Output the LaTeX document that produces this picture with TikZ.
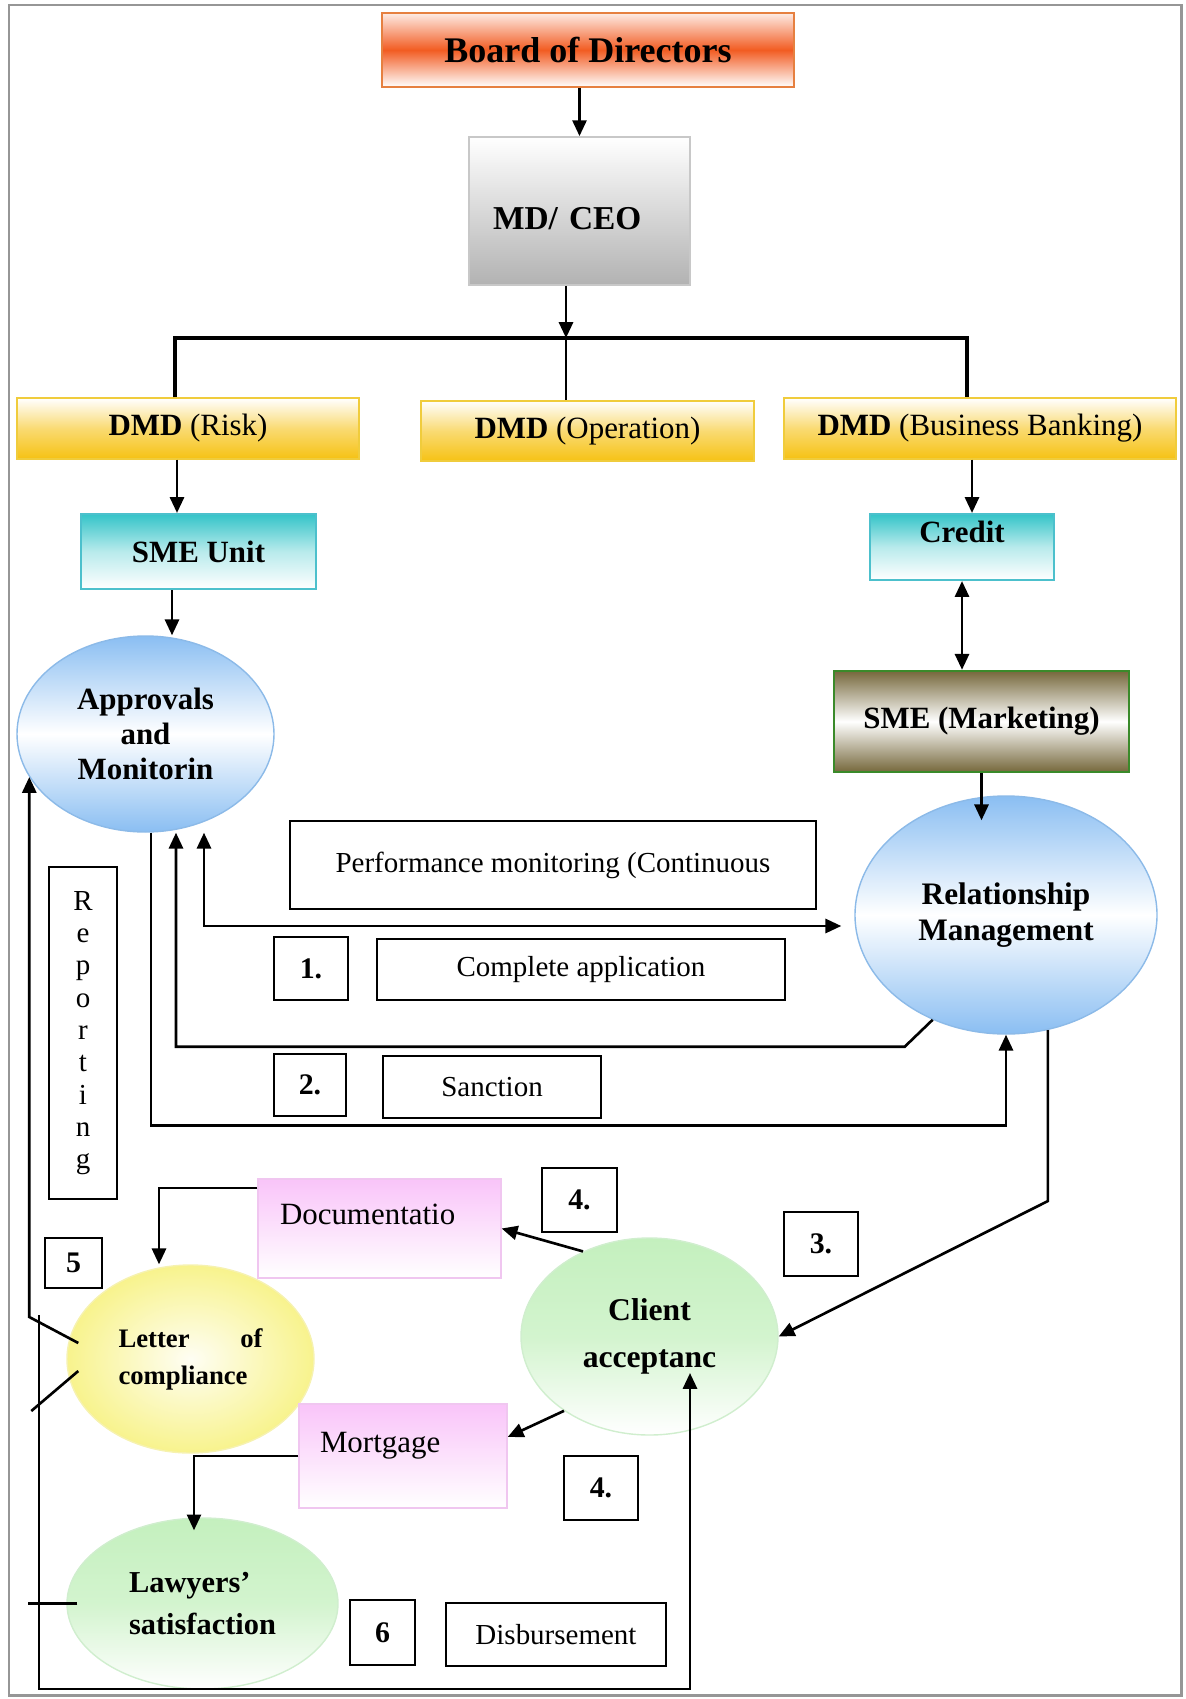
\documentclass[tikz,border=0pt]{standalone}
\usepackage{fontspec}
\setmainfont{Liberation Serif}
\usepackage{tikz}
\usetikzlibrary{shapes.geometric,arrows.meta,calc}
\definecolor{BodFill}{RGB}{242,92,34}
\definecolor{BodLine}{RGB}{230,128,64}
\definecolor{CeoFill}{RGB}{178,178,178}
\definecolor{CeoLine}{RGB}{200,200,200}
\definecolor{DmdFill}{RGB}{246,194,20}
\definecolor{DmdLine}{RGB}{240,204,60}
\definecolor{SmeFill}{RGB}{52,196,200}
\definecolor{SmeLine}{RGB}{76,192,204}
\definecolor{MktFill}{RGB}{118,104,60}
\definecolor{MktLine}{RGB}{58,138,42}
\definecolor{BluFill}{RGB}{138,190,242}
\definecolor{BluLine}{RGB}{140,186,232}
\definecolor{YelFill}{RGB}{246,240,112}
\definecolor{YelLine}{RGB}{246,242,176}
\definecolor{GrnFill}{RGB}{196,240,190}
\definecolor{GrnLine}{RGB}{208,238,206}
\definecolor{PnkFill}{RGB}{249,196,249}
\definecolor{PnkLine}{RGB}{240,198,240}
\definecolor{FrameGr}{RGB}{150,150,150}
\tikzset{
  nd_bod/.style={
    rectangle, draw=BodLine, line width=1pt,
    top color=BodFill!12!white, bottom color=white, middle color=BodFill,
    minimum width=8.24cm, minimum height=1.48cm,
    font=\fontsize{20.5}{24}\selectfont\bfseries},
  nd_ceo/.style={
    rectangle, draw=CeoLine, line width=1pt,
    top color=white, bottom color=CeoFill,
    minimum height=2.96cm, text width=3.46cm, inner xsep=0.48cm,
    text height=0.8cm, text depth=0.04cm,
    align=left, font=\fontsize{19}{22}\selectfont\bfseries},
  nd_dmd/.style={
    rectangle, draw=DmdLine, line width=1pt,
    top color=white, bottom color=DmdFill, middle color=DmdFill!60!white,
    minimum height=1.21cm, font=\fontsize{17.6}{21}\selectfont},
  nd_sme/.style={
    rectangle, draw=SmeLine, line width=1.2pt,
    top color=SmeFill, bottom color=white, middle color=SmeFill!35!white,
    font=\fontsize{17.6}{21}\selectfont\bfseries},
  nd_mkt/.style={
    rectangle, draw=MktLine, line width=1.4pt,
    top color=MktFill, bottom color=MktFill, middle color=white,
    font=\fontsize{17.6}{21}\selectfont\bfseries},
  nd_blu/.style={
    ellipse, draw=BluLine, line width=0.8pt, inner sep=0pt,
    top color=BluFill, bottom color=BluFill, middle color=white,
    align=center, font=\fontsize{17.6}{20}\selectfont\bfseries},
  nd_yel/.style={
    ellipse, draw=YelLine, line width=0.8pt, inner sep=0pt,
    inner color=YelFill!8!white, outer color=YelFill!80!white,
    font=\fontsize{15.2}{21}\selectfont\bfseries},
  nd_grn/.style={
    ellipse, draw=GrnLine, line width=0.8pt, inner sep=0pt,
    top color=GrnFill, bottom color=white, middle color=GrnFill!75!white,
    font=\fontsize{17.6}{24}\selectfont\bfseries},
  nd_pnk/.style={
    rectangle, draw=PnkLine, line width=0.8pt,
    top color=PnkFill, bottom color=white, align=left,
    text height=0.42cm, text depth=0.6cm, inner ysep=2pt,
    font=\fontsize{17.6}{21}\selectfont},
  nd_box/.style={
    rectangle, draw=black, line width=1.3pt, fill=white,
    font=\fontsize{16.5}{20}\selectfont},
  nd_num/.style={
    nd_box, font=\fontsize{17}{20}\selectfont\bfseries},
  lnk/.style={line width=1.5pt},
  arr/.style={-{Stealth[length=9pt,width=8pt,inset=0pt]},line width=1.5pt},
  arrb/.style={{Stealth[length=9pt,width=8pt,inset=0pt]}-{Stealth[length=9pt,width=8pt,inset=0pt]},line width=1.5pt},
}

\begin{document}
\begin{tikzpicture}[x=1cm,y=1cm]

\useasboundingbox (0,0) rectangle (23.7,-33.98);
\draw[FrameGr,line width=1.7pt] (0.18,-0.1) rectangle (23.62,-33.9);

%% top
\node[nd_bod] at (11.76,-1.0)  (BD){Board of Directors};
\node[nd_ceo] at (11.59,-4.22) (CEO){MD/ CEO};
\coordinate (HB) at (11.32,-6.76);

%% deputies
\node[nd_dmd,minimum width=6.84cm] at (3.76,-8.57)  (DR){\textbf{DMD} (Risk)};
\node[nd_dmd,minimum width=6.66cm] at (11.75,-8.62) (DO){\textbf{DMD} (Operation)};
\node[nd_dmd,minimum width=7.84cm] at (19.6,-8.57)  (DB){\textbf{DMD} (Business Banking)};

%% units
\node[nd_sme,minimum width=4.7cm,minimum height=1.5cm] at (3.97,-11.03) (SU){SME Unit};
\node[nd_sme,minimum width=3.68cm,minimum height=1.32cm,
      text height=0.42cm,text depth=0.62cm,inner ysep=2pt] at (19.24,-10.94) (CR){Credit};
\node[nd_mkt,minimum width=5.9cm,minimum height=2.02cm] at (19.63,-14.43) (SM){SME (Marketing)};

%% middle
\node[nd_blu,minimum width=5.14cm,minimum height=3.92cm] at (2.91,-14.68) (AP){Approvals\\and\\Monitorin};
\node[nd_blu,minimum width=6.04cm,minimum height=4.76cm,
      font=\fontsize{17.8}{20.5}\selectfont\bfseries] at (20.12,-18.3) (RM){Relationship\\Management};
\node[nd_box,minimum width=10.52cm,minimum height=1.76cm] at (11.06,-17.3) (PM){Performance monitoring (Continuous};
\node[nd_num,minimum width=1.48cm,minimum height=1.26cm] at (6.22,-19.37) (N1){1.};
\node[nd_box,minimum width=8.16cm,minimum height=1.22cm] at (11.62,-19.39) (CP){Complete application};
\node[nd_num,minimum width=1.44cm,minimum height=1.24cm] at (6.2,-21.7)   (N2){2.};
\node[nd_box,minimum width=4.36cm,minimum height=1.24cm] at (9.84,-21.74) (SN){Sanction};
\node[nd_box,minimum width=1.36cm,minimum height=6.64cm,align=center,
      font=\fontsize{16.5}{18.4}\selectfont] at (1.66,-20.66) (RE){R\\e\\p\\o\\r\\t\\i\\n\\g};

%% bottom
\node[nd_pnk,text width=3.98cm,inner xsep=0.44cm,minimum height=1.98cm] at (7.59,-24.57) (DC){Documentatio};
\node[nd_num,minimum width=1.5cm,minimum height=1.28cm]  at (11.59,-24.0)  (N4a){4.};
\node[nd_num,minimum width=1.48cm,minimum height=1.28cm] at (16.42,-24.88) (N3){3.};
\node[nd_num,minimum width=1.14cm,minimum height=1.0cm]  at (1.47,-25.26)  (N5){5};
\node[nd_grn,minimum width=5.14cm,minimum height=3.94cm,align=center,
      font=\fontsize{18}{26.7}\selectfont\bfseries] at (12.99,-26.73) (CA){Client\\acceptanc};
\node[nd_yel,minimum width=4.94cm,minimum height=3.76cm,
      text width=2.88cm,align=justify] at (3.81,-27.18) (LC){Letter of compliance};
\node[nd_pnk,text width=3.32cm,inner xsep=0.42cm,minimum height=2.08cm,
      text depth=0.56cm] at (8.06,-29.12) (MG){Mortgage};
\node[nd_num,minimum width=1.48cm,minimum height=1.28cm] at (12.02,-29.76) (N4b){4.};
\node[nd_grn,minimum width=5.42cm,minimum height=3.42cm,align=left,
      font=\fontsize{17.3}{23.9}\selectfont\bfseries] at (4.05,-32.07) (LW){Lawyers’\\satisfaction};
\node[nd_num,minimum width=1.3cm,minimum height=1.3cm]   at (7.65,-32.65)  (N6){6};
\node[nd_box,minimum width=4.4cm,minimum height=1.26cm]  at (11.12,-32.69) (DS){Disbursement};

\coordinate (RT) at (0.78,-26.3);
\coordinate (RB) at (0.78,-33.78);

%% chain of command
\draw[arr] (CEO.north |- BD.south)--(CEO.north);
\draw[arr] (CEO.south -| HB)--(HB);
\draw[lnk,line width=2.1pt] ([xshift=-0.26cm]DR.north) |- (HB) -| ([xshift=-0.26cm]DB.north);
\draw[lnk] (HB)--(HB |- DO.north);
\draw[arr] ([xshift=-0.22cm]DR.south)--([xshift=-0.22cm]DR.south |- SU.north);
\draw[arr] ([xshift=-0.16cm]DB.south)--([xshift=-0.16cm]DB.south |- CR.north);
\draw[arr] ([xshift=-0.53cm]SU.south)--([xshift=-0.53cm]SU.south |- AP.north);
\draw[arrb] (CR.south)--(CR.south |- SM.north);
\draw[arr] (SM.south)--([yshift=-0.5cm]SM.south |- RM.north);

%% loop between approvals and RM
\draw[arrb] ([xshift=1.17cm]AP.south) |- ([xshift=-0.26cm,yshift=-0.22cm]RM.west);
\draw[arr] (RM.235)--++(-0.56,-0.54) -| ([xshift=0.61cm]AP.south);
\draw[arr] ([xshift=0.11cm]AP.south) |- ([yshift=-1.82cm]RM.south)--(RM.south);

%% client side
\draw[arr] (RM.290)--++(0,-3.42)--(CA.east);
\draw[arr] (CA.128)--(DC.east);
\draw[arr] ([yshift=0.81cm]DC.west) -| ([xshift=-0.63cm]LC.north);
\draw[arr] (CA.221)--([yshift=0.38cm]MG.east);
\draw[arr] (MG.west) -| ([xshift=-0.17cm,yshift=-0.26cm]LW.north);

%% reporting back
\draw[arr] ([xshift=0.24cm,yshift=0.32cm]LC.west)--++(-0.98,0.52)--([xshift=0.26cm,yshift=-0.86cm]AP.west);
\draw[lnk] ([xshift=0.24cm,yshift=-0.24cm]LC.west)--++(-0.94,-0.8);
\draw[lnk] ([xshift=0.22cm]LW.west)--++(-0.98,0);
\draw[arr] (RT)--(RB) -| ([xshift=0.81cm,yshift=-0.73cm]CA.center);

\end{tikzpicture}
\end{document}
